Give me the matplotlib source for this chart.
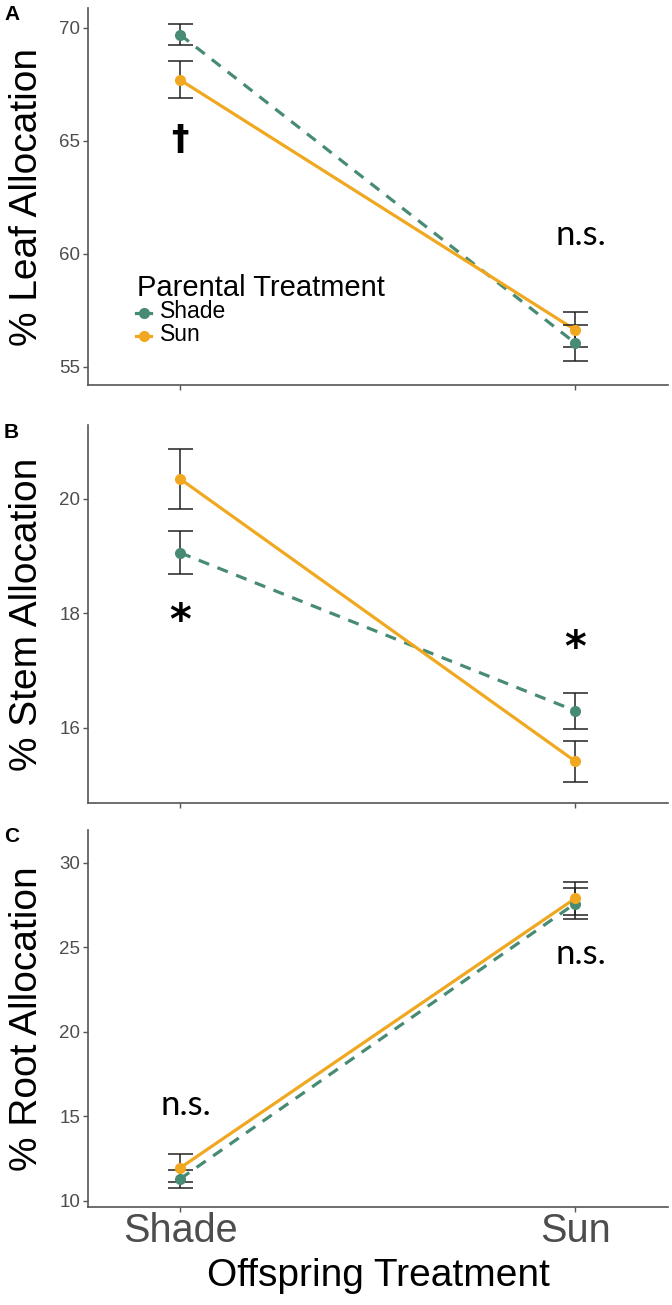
import matplotlib
matplotlib.use("Agg")
import matplotlib.pyplot as plt
from matplotlib.lines import Line2D

plt.rcParams["font.family"] = ["Liberation Sans", "DejaVu Sans"]

categories = ["Shade", "Sun"]
series = ["Shade", "Sun"]

leaf_shade = [69.7, 56.06]
leaf_shade_se = [0.47, 0.8]
leaf_sun = [67.7, 56.64]
leaf_sun_se = [0.82, 0.78]

stem_shade = [19.06, 16.30]
stem_shade_se = [0.38, 0.31]
stem_sun = [20.35, 15.42]
stem_sun_se = [0.52, 0.36]

root_shade = [11.3, 27.6]
root_shade_se = [0.55, 0.9]
root_sun = [11.95, 27.9]
root_sun_se = [0.85, 1.0]

ylabels = ["% Leaf Allocation", "% Stem Allocation", "% Root Allocation"]
panel_letters = ["A", "B", "C"]
yticks = [[55, 60, 65, 70], [16, 18, 20], [10, 15, 20, 25, 30]]
ylims = [(54.2, 70.88), (14.69, 21.29), (9.64, 31.95)]
annotations = [
    [("\u2020", 0, 65.05), ("n.s.", 1, 60.4)],
    [("*", 0, 17.85), ("*", 1, 17.38)],
    [("n.s.", 0, 15.09), ("n.s.", 1, 24.0)],
]

GREEN = "#478b75"
ORANGE = "#f0a820"
GRAY = "#4d4d4d"

fig = plt.figure(figsize=(6.72, 13.05), dpi=100)
H = 1305.0
W = 672.0
boxes = [(8, 385), (425, 803), (830, 1207)]
left_px, right_px = 88, 668

data = [
    (leaf_shade, leaf_shade_se, leaf_sun, leaf_sun_se),
    (stem_shade, stem_shade_se, stem_sun, stem_sun_se),
    (root_shade, root_shade_se, root_sun, root_sun_se),
]
DASH = (0, (3.5, 2.8))

x = [0, 1]
for i, (top, bot) in enumerate(boxes):
    ax = fig.add_axes([left_px / W, 1 - bot / H, (right_px - left_px) / W, (bot - top) / H])
    sh, shse, su, suse = data[i]
    for vals, se, col, ls in [(sh, shse, GREEN, DASH), (su, suse, ORANGE, "-")]:
        ax.plot(x, vals, color=col, lw=2.3, ls=ls, zorder=3)
        ax.errorbar(x, vals, yerr=se, fmt="none", ecolor="#222222", elinewidth=1.1,
                    capsize=9, capthick=1.1, zorder=4)
        ax.plot(x, vals, "o", color=col, ms=8, zorder=5, mec="none")
    ax.set_xlim(-0.233, 1.235)
    ax.set_ylim(*ylims[i])
    ax.set_yticks(yticks[i])
    ax.set_yticklabels([str(t) for t in yticks[i]], fontsize=13.5, color=GRAY)
    ax.set_xticks(x)
    for s in ["top", "right"]:
        ax.spines[s].set_visible(False)
    for s in ["left", "bottom"]:
        ax.spines[s].set_color("#555555")
        ax.spines[s].set_linewidth(1.2)
    ax.tick_params(axis="both", colors="#555555", length=3.5, width=1)
    ax.tick_params(axis="y", labelcolor=GRAY, pad=2)
    if i == 2:
        ax.set_xticklabels(categories, fontsize=28.5, color=GRAY)
        ax.tick_params(axis="x", labelcolor=GRAY, pad=0)
        ax.set_xlabel("Offspring Treatment", fontsize=28, color="black", labelpad=6)
    else:
        ax.set_xticklabels([])
    ax.set_ylabel(ylabels[i], fontsize=28, color="black")
    ax.yaxis.set_label_coords(-0.074, 0.5)
    for txt, xi, yi in annotations[i]:
        if txt == "*":
            ax.text(xi, yi, txt, fontsize=30, ha="center", va="center", color="black",
                    family="DejaVu Sans", fontweight="bold")
        elif txt == "\u2020":
            ax.text(xi, yi, txt, fontsize=25, ha="center", va="center", color="black",
                    family="DejaVu Sans", fontweight="bold")
        else:
            ax.text(xi + 0.015, yi, txt, fontsize=25, ha="center", va="baseline",
                    color="black", family="Lato")
    fig.text(4 / W, 1 - (top + 7) / H, panel_letters[i], fontsize=15, fontweight="bold",
             ha="left", va="center")
    if i == 0:
        fig.text(137 / W, 1 - 288 / H, "Parental Treatment", fontsize=21,
                 ha="left", va="center", color="black")
        for lab, col, yy in [(series[0], GREEN, 313), (series[1], ORANGE, 336)]:
            fig.add_artist(Line2D([136 / W, 151 / W], [1 - yy / H, 1 - yy / H], color=col,
                                  lw=2.3, transform=fig.transFigure))
            fig.add_artist(Line2D([143.5 / W], [1 - yy / H], color=col, marker="o", ms=8,
                                  mec="none", transform=fig.transFigure))
            fig.text(160 / W, 1 - (yy - 1) / H, lab, fontsize=16.5, ha="left", va="center",
                     color="black")

fig.savefig("out.png", dpi=100)
